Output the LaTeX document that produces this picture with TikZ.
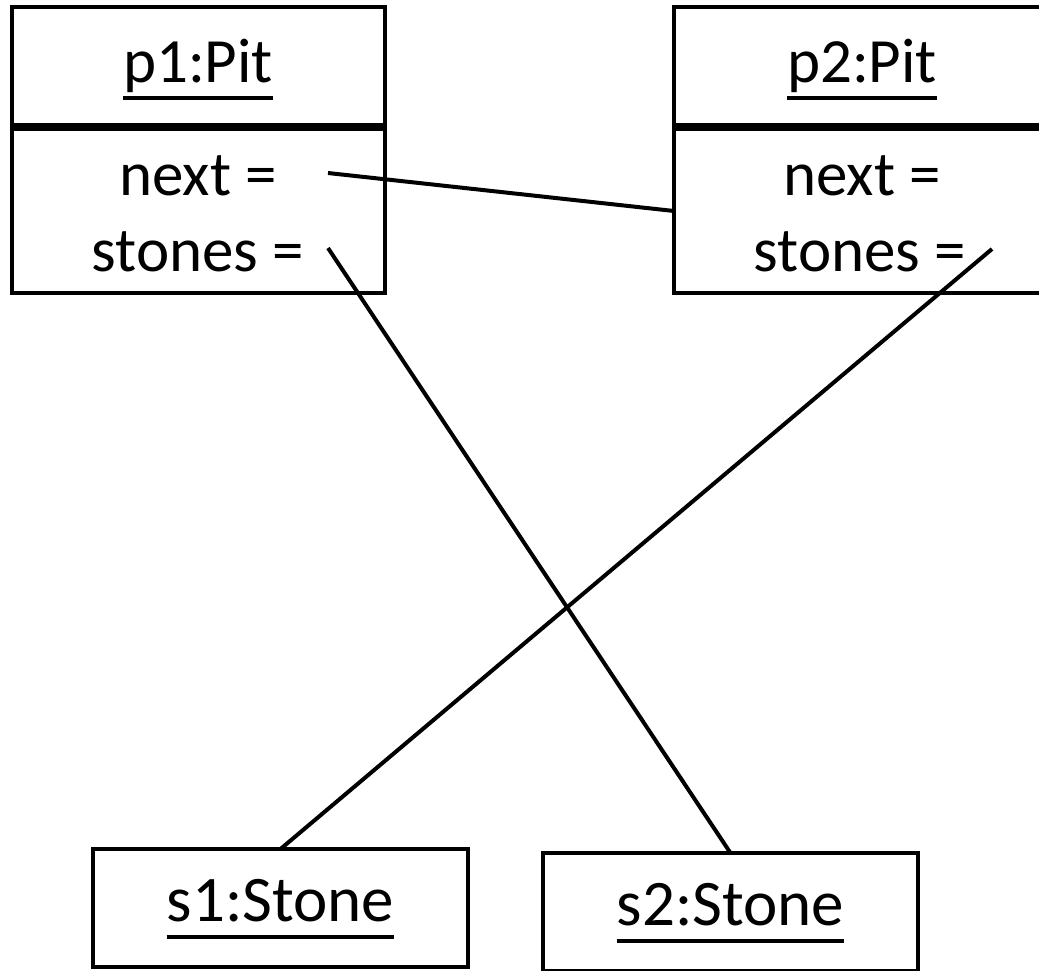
\documentclass[tikz,border=0pt]{standalone}
\usepackage{fontspec}
\setmainfont{Carlito}
\usetikzlibrary{positioning,calc}

\begin{document}
\begin{tikzpicture}[x=1pt, y=-1pt,
    pitbox/.style={draw, line width=4pt, minimum width=373pt, inner sep=0, outer sep=0},
    stonebox/.style={draw, line width=4pt, minimum width=375pt, minimum height=118pt, inner sep=0, outer sep=0},
    txt/.style={font=\fontsize{63}{75}\selectfont, inner sep=0, anchor=base},
    bigtxt/.style={txt, font=\fontsize{65}{78}\selectfont},
    link/.style={line width=4pt},
    uline/.style={line width=4pt}
  ]
  \clip (0,0) rectangle (1039,970);

  % the two pits
  \node[pitbox, minimum height=118pt] (p1head) at (198.5,66) {};
  \node[pitbox, minimum height=164pt] (p1body) at (198.5,211) {};
  \node[pitbox, minimum height=118pt] (p2head) at (860.5,66) {};
  \node[pitbox, minimum height=164pt] (p2body) at (860.5,211) {};

  \node[txt] (p1name) at (198,82) {p1:Pit};
  \node[txt] (p1next) at (198,195) {next =};
  \node[txt] (p1stones) at (198,271) {stones =};
  \node[txt] (p2name) at (862,82) {p2:Pit};
  \node[txt] (p2next) at (862,195) {next =};
  \node[txt] (p2stones) at (860,271) {stones =};

  % the two stones
  \node[stonebox] (s1) at (280.5,908) {};
  \node[stonebox] (s2) at (730.5,912) {};
  \node[bigtxt] (s1name) at (280.5,921) {s1:Stone};
  \node[bigtxt] (s2name) at (730.5,925) {s2:Stone};

  \foreach \n in {p1name,p2name,s1name,s2name}
    \draw[uline] ([yshift=-16pt]\n.base west) -- ([yshift=-16pt]\n.base east);

  % references
  \coordinate (p1nextref) at (328,173);
  \coordinate (p1stonesref) at (328,248);
  \coordinate (p2stonesref) at (992,249);
  \draw[link] (p1nextref) -- (p2body.west);
  \draw[link] (p1stonesref) -- (s2.north);
  \draw[link] (p2stonesref) -- (s1.north);
\end{tikzpicture}
\end{document}
